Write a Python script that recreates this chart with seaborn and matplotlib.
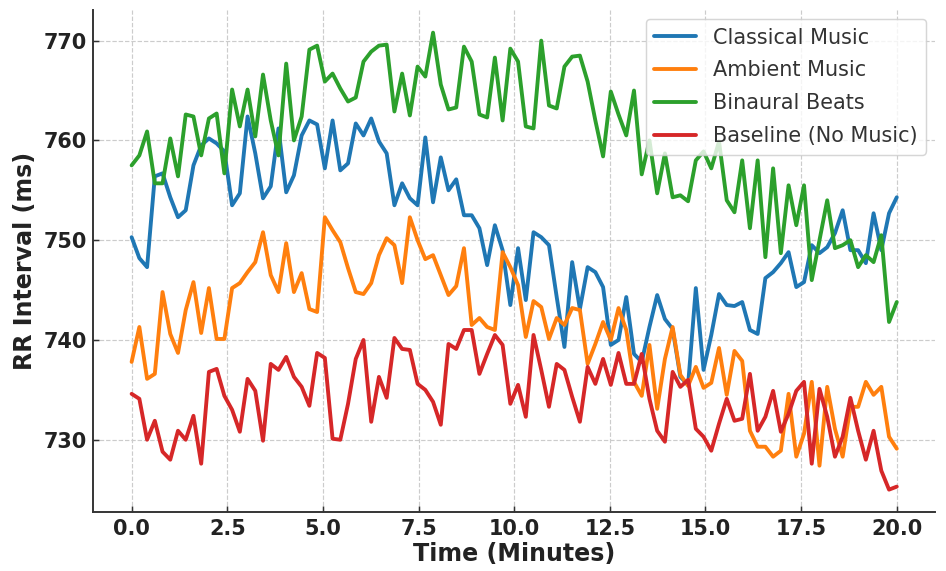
import numpy as np
import pandas as pd
import matplotlib
matplotlib.use("Agg")
import matplotlib.pyplot as plt
import seaborn as sns

# ---------------- data ----------------
time_min = np.linspace(0, 20, 100)

series_names = ["Classical Music", "Ambient Music", "Binaural Beats", "Baseline (No Music)"]
series_colors = ["#1f77b4", "#ff7f0e", "#2ca02c", "#d62728"]

classical = [
    750.3, 748.2, 747.3, 756.4, 756.7, 754.3, 752.3, 753.0, 757.5, 759.5,
    760.2, 759.7, 758.9, 753.5, 754.7, 762.4, 758.7, 754.2, 755.4, 761.2,
    754.8, 756.5, 760.5, 762.0, 761.6, 757.2, 762.0, 757.0, 757.7, 761.7,
    760.5, 762.2, 759.9, 758.7, 753.5, 755.7, 754.2, 753.5, 760.3, 753.8,
    758.3, 755.0, 756.1, 752.5, 752.5, 751.2, 747.5, 751.5, 749.0, 743.5,
    749.2, 744.0, 750.8, 750.3, 749.5, 744.3, 739.3, 747.8, 743.1, 747.3,
    746.8, 745.3, 739.5, 740.0, 744.3, 738.6, 737.8, 741.3, 744.5, 742.1,
    741.1, 736.3, 735.5, 745.2, 737.0, 740.5, 744.6, 743.5, 743.4, 743.8,
    741.0, 740.6, 746.2, 746.8, 747.7, 748.8, 745.3, 745.8, 749.5, 748.7,
    749.3, 750.7, 753.0, 749.0, 749.0, 747.7, 752.7, 749.0, 752.7, 754.3,
]

ambient = [
    737.8, 741.3, 736.1, 736.6, 744.8, 740.6, 738.7, 743.0, 745.8, 740.7,
    745.2, 740.1, 740.1, 745.2, 745.7, 746.8, 747.8, 750.8, 746.5, 744.8,
    749.7, 744.8, 746.7, 743.1, 742.8, 752.3, 751.0, 749.8, 747.2, 744.8,
    744.6, 745.7, 748.5, 750.2, 749.5, 745.7, 752.3, 750.0, 748.1, 748.5,
    746.5, 744.5, 745.4, 749.2, 741.5, 742.2, 741.3, 741.0, 748.8, 747.3,
    745.5, 740.3, 743.9, 743.3, 740.1, 742.2, 741.5, 743.2, 743.0, 737.6,
    739.6, 741.8, 740.0, 743.2, 741.0, 735.8, 734.4, 739.5, 733.1, 738.1,
    741.3, 736.5, 735.4, 737.3, 735.2, 735.7, 739.2, 734.5, 738.9, 737.9,
    730.9, 729.3, 729.3, 728.3, 728.9, 734.6, 728.3, 730.6, 735.8, 727.4,
    735.3, 731.1, 728.3, 733.3, 733.3, 735.8, 734.5, 735.3, 730.3, 729.1,
]

binaural = [
    757.5, 758.5, 760.9, 755.7, 755.7, 760.2, 756.4, 762.6, 762.4, 758.5,
    762.2, 762.7, 756.7, 765.1, 761.4, 765.1, 760.4, 766.6, 762.0, 758.5,
    767.7, 760.0, 762.4, 769.1, 769.5, 765.9, 766.7, 765.2, 763.9, 764.3,
    767.9, 768.9, 769.5, 769.6, 762.9, 766.7, 762.5, 767.4, 766.4, 770.8,
    765.6, 763.1, 763.3, 769.4, 767.9, 762.6, 762.3, 768.3, 762.0, 769.2,
    767.9, 761.4, 761.2, 770.0, 763.5, 763.2, 767.4, 768.4, 768.5, 765.9,
    762.0, 758.4, 764.9, 762.6, 760.5, 765.0, 756.6, 760.0, 754.7, 758.7,
    754.3, 754.5, 753.9, 758.0, 758.9, 757.2, 759.9, 754.0, 752.8, 758.0,
    751.2, 758.0, 748.3, 757.2, 748.7, 755.5, 751.5, 755.5, 746.0, 750.0,
    754.0, 749.2, 749.5, 750.0, 747.3, 748.5, 747.8, 750.5, 741.8, 743.8,
]

baseline = [
    734.6, 734.1, 730.0, 731.9, 728.8, 728.0, 730.9, 730.0, 732.4, 727.6,
    736.8, 737.1, 734.4, 733.0, 730.8, 736.1, 734.9, 729.9, 737.6, 737.0,
    738.3, 736.3, 735.3, 733.4, 738.7, 738.2, 730.1, 730.0, 733.6, 738.1,
    740.0, 731.8, 736.3, 734.2, 740.2, 739.1, 739.0, 735.6, 735.0, 733.8,
    731.5, 739.6, 739.1, 741.0, 741.0, 736.6, 738.6, 740.5, 739.5, 733.6,
    735.5, 732.3, 740.5, 737.0, 733.3, 737.6, 737.0, 734.3, 731.8, 737.3,
    735.6, 738.1, 735.5, 738.7, 735.6, 735.6, 738.6, 734.1, 730.9, 729.8,
    736.8, 735.3, 736.0, 731.1, 730.3, 728.9, 731.6, 734.1, 731.9, 732.1,
    736.6, 730.9, 732.3, 734.9, 730.8, 732.6, 734.9, 735.8, 727.6, 735.1,
    732.3, 728.3, 730.3, 734.2, 730.9, 728.0, 730.9, 726.9, 725.0, 725.3,
]

df = pd.DataFrame({
    "Time": np.tile(time_min, 4),
    "RR": np.concatenate([classical, ambient, binaural, baseline]),
    "Condition": np.repeat(series_names, len(time_min)),
})

# ---------------- style ----------------
sns.set_style("ticks")
plt.rcParams["font.family"] = ["DejaVu Sans"]

DPI = 107
fig, ax = plt.subplots(figsize=(946 / DPI, 571 / DPI), dpi=DPI)

sns.lineplot(
    data=df, x="Time", y="RR", hue="Condition", hue_order=series_names,
    palette=series_colors, linewidth=2.6, ax=ax, errorbar=None,
)

ax.grid(True, linestyle="--", color="#cccccc", linewidth=0.8)
ax.set_axisbelow(True)
sns.despine(ax=ax)
for side in ("left", "bottom"):
    ax.spines[side].set_color("#333333")
    ax.spines[side].set_linewidth(1.3)

ax.set_xticks([0, 2.5, 5, 7.5, 10, 12.5, 15, 17.5, 20])
ax.set_yticks([730, 740, 750, 760, 770])
ax.tick_params(axis="both", direction="in", length=4, width=1.0, color="#333333",
               labelsize=14, labelcolor="#222222", pad=4.5)
for lab in ax.get_xticklabels() + ax.get_yticklabels():
    lab.set_fontweight("bold")

ax.set_xlabel("Time (Minutes)", fontsize=16, fontweight="bold", color="#222222", labelpad=2)
ax.set_ylabel("RR Interval (ms)", fontsize=16, fontweight="bold", color="#222222", labelpad=4)

handles, labels = ax.get_legend_handles_labels()
leg = ax.legend(handles, labels, loc="upper right", fontsize=14, frameon=True,
                framealpha=0.8, edgecolor="#cccccc", labelcolor="#333333",
                labelspacing=0.62, borderaxespad=0.45)

fig.subplots_adjust(left=0.0987, right=0.9884, bottom=0.1025, top=0.9828)
fig.savefig("out.png", dpi=DPI)
